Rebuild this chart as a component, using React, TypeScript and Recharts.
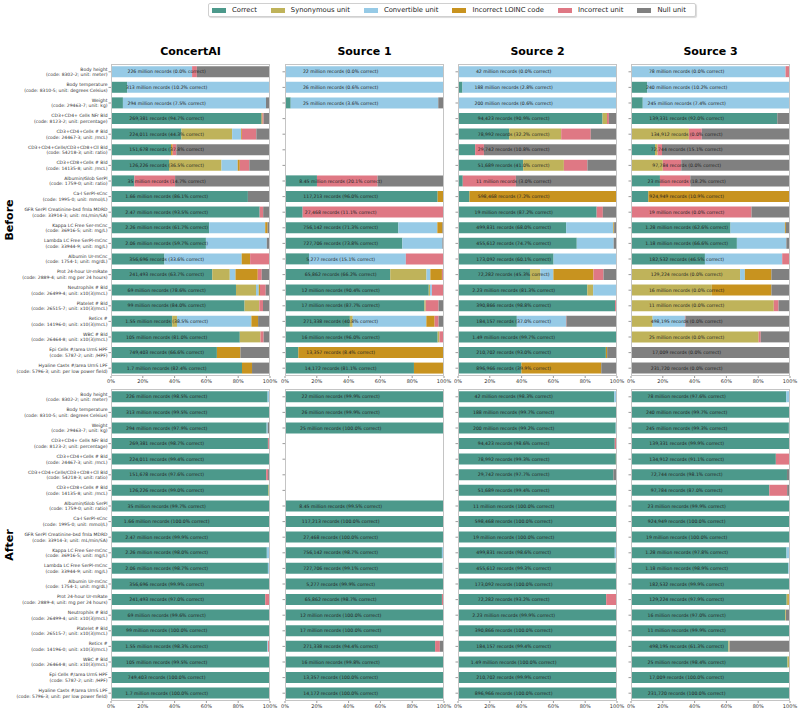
import React from 'react';
import { BarChart, Bar, XAxis, YAxis, ReferenceDot } from 'recharts';

const SEGMENT_KEYS = ['correct', 'synonymous', 'convertible', 'loinc', 'unit', 'nullUnit'];
const SEGMENT_NAMES = ['Correct', 'Synonymous unit', 'Convertible unit', 'Incorrect LOINC code', 'Incorrect unit', 'Null unit'];
const SEGMENT_COLORS = ['#4c998b', '#bfb35a', '#96cae6', '#c8931f', '#df7884', '#808080'];

const SOURCES = ['ConcertAI', 'Source 1', 'Source 2', 'Source 3'];
const X_TICKS = [0, 20, 40, 60, 80, 100];
// bar annotations sit at this x value (percent), as in the original
const LABEL_X = 35;

const TEST_NAMES = [
  'Body height', 'Body temperature', 'Weight', 'CD3+CD4+ Cells NFr Bld', 'CD3+CD4+Cells # Bld',
  'CD3+CD4+Cells/CD3+CD8+Cll Bld', 'CD3+CD8+Cells # Bld', 'Albumin/Glob SerPl', 'Ca-I SerPl-sCnc',
  'GFR SerPl Creatinine-bsd fmla MDRD', 'Kappa LC Free Ser-mCnc', 'Lambda LC Free SerPl-mCnc',
  'Albumin Ur-mCnc', 'Prot 24-hour Ur-mRate', 'Neutrophils # Bld', 'Platelet # Bld', 'Retics #',
  'WBC # Bld', 'Epi Cells #/area UrnS HPF', 'Hyaline Casts #/area UrnS LPF',
];
const TEST_CODES = [
  '(code: 8302-2; unit: meter)', '(code: 8310-5; unit: degrees Celsius)', '(code: 29463-7; unit: kg)',
  '(code: 8123-2; unit: percentage)', '(code: 24467-3; unit: /mcL)', '(code: 54218-3; unit: ratio)',
  '(code: 14135-8; unit: /mcL)', '(code: 1759-0; unit: ratio)', '(code: 1995-0; unit: mmol/L)',
  '(code: 33914-3; unit: mL/min/SA)', '(code: 36916-5; unit: mg/L)', '(code: 33944-9; unit: mg/L)',
  '(code: 1754-1; unit: mg/dL)', '(code: 2889-4; unit: mg per 24 hours)', '(code: 26499-4; unit: x10(3)/mcL)',
  '(code: 26515-7; unit: x10(3)/mcL)', '(code: 14196-0; unit: x10(3)/mcL)', '(code: 26464-8; unit: x10(3)/mcL)',
  '(code: 5787-2; unit: /HPF)', '(code: 5796-3; unit: per low power field)',
];

const CONCERTAI_RECORDS = ['226 million', '313 million', '294 million', '269,381', '224,011', '151,678', '126,226', '35 million', '1.66 million', '2.47 million', '2.26 million', '2.06 million', '356,696', '241,493', '69 million', '99 million', '1.55 million', '105 million', '749,403', '1.7 million'];
const SOURCE1_RECORDS = ['22 million', '26 million', '25 million', null, null, null, null, '8.45 million', '117,213', '27,468', '756,142', '727,706', '5,277', '65,862', '12 million', '17 million', '271,338', '16 million', '13,357', '14,172'];
const SOURCE2_RECORDS = ['42 million', '188 million', '200 million', '94,423', '78,992', '29,742', '51,689', '11 million', '598,468', '19 million', '499,831', '455,612', '173,092', '72,282', '2.23 million', '390,866', '184,157', '1.49 million', '210,702', '896,966'];
const SOURCE3_RECORDS = ['78 million', '240 million', '245 million', '139,331', '134,912', '72,744', '97,784', '23 million', '924,949', '19 million', '1.28 million', '1.18 million', '182,532', '129,224', '16 million', '11 million', '498,195', '25 million', '17,009', '231,720'];

// each row: correct, synonymous, convertible, incorrect LOINC, incorrect unit, null (percent)
const BEFORE_CONCERTAI = [
  [0, 0, 51, 0, 3, 46], [10.2, 0, 89.3, 0, 0, 0.5], [7.5, 0, 90, 0, 0, 2.5], [94.7, 0, 0, 0.6, 0.7, 4],
  [44.3, 31.9, 5.6, 0.5, 9.1, 8.6], [37.8, 0, 0, 1, 2.3, 58.9], [36.5, 33, 10.2, 1.3, 6, 13], [14.7, 0, 0, 0, 25.6, 59.7],
  [86.1, 0, 0, 0, 0, 13.9], [93.5, 0, 0, 0, 2.2, 4.3], [61.7, 0, 35.3, 1.5, 0, 1.5], [59.7, 0, 38.3, 0, 0, 2],
  [33.6, 0, 48.6, 5.3, 12.5, 0], [63.7, 11, 3.6, 14, 2.5, 5.2], [78.6, 12.6, 1.7, 0.8, 3.6, 2.7], [84, 9.3, 0, 0, 2.3, 4.4],
  [38.5, 3, 46.8, 4.2, 0, 7.5], [81, 13, 0, 0, 2, 4], [66.6, 0, 0, 14.8, 0, 18.6], [82.4, 0, 0, 6.3, 0, 11.3],
];
const BEFORE_SOURCE1 = [
  [0, 0, 100, 0, 0, 0], [0.6, 0, 99.4, 0, 0, 0], [3.6, 0, 92.8, 0, 0, 3.6], null,
  null, null, null, [20.1, 0, 0, 0, 38.1, 41.8],
  [96, 0, 0, 4, 0, 0], [11.1, 0, 0, 0, 88.9, 0], [71.3, 0, 24.5, 3.2, 0, 1], [73.8, 0, 25.2, 0, 0, 1],
  [15.1, 0, 60.9, 0, 24, 0], [66.2, 22.8, 2.4, 7.3, 0.6, 0.7], [90.4, 0.8, 1.2, 0, 7.6, 0], [87.7, 0.8, 0, 0, 8.1, 3.4],
  [40.8, 1.8, 46.3, 5.2, 2.5, 3.4], [96, 1.2, 0, 0, 2.8, 0], [8.4, 0, 0, 91.6, 0, 0], [81.1, 0, 0, 18.9, 0, 0],
];
const BEFORE_SOURCE2 = [
  [0, 0, 100, 0, 0, 0], [2.8, 0, 96.9, 0, 0, 0.3], [0.6, 0, 99.4, 0, 0, 0], [90.9, 2.8, 0, 0, 1.2, 5.1],
  [32.2, 32.7, 0, 0, 18.6, 16.5], [10.8, 0, 0, 0, 5.5, 83.7], [41, 25.6, 0, 0, 14.8, 18.6], [3, 0, 0, 0, 33.4, 63.6],
  [7.2, 0, 0, 92.8, 0, 0], [87.2, 0, 0, 0, 3.9, 8.9], [68, 0, 29.7, 0.5, 0, 1.8], [74.7, 0, 23.2, 0, 0, 2.1],
  [60.1, 0, 39.5, 0, 0.4, 0], [45.3, 6.5, 8.2, 25.2, 6.3, 8.5], [81.3, 3.7, 15, 0, 0, 0], [98.8, 0, 0, 0, 1.2, 0],
  [37, 0, 30.9, 0, 0.3, 31.8], [99.7, 0, 0, 0, 0, 0.3], [93, 0, 0, 0.8, 0, 6.2], [39.9, 0, 0, 50.2, 0, 9.9],
];
const BEFORE_SOURCE3 = [
  [0, 0, 97.2, 0, 2.8, 0], [10.2, 0, 89.3, 0, 0, 0.5], [7.4, 0, 92.6, 0, 0, 0], [92, 0, 0, 0, 0, 8],
  [0, 36.4, 0, 0, 8.1, 55.5], [15.1, 1.6, 0, 0, 2.8, 80.5], [0, 20, 0, 0, 11.6, 68.4], [18.2, 0, 0, 0, 19.1, 62.7],
  [10.9, 0, 0, 89.1, 0, 0], [0, 0, 0, 0, 75.8, 24.2], [62.6, 0, 34.2, 0.6, 0, 2.6], [66.6, 0, 31.1, 0, 0, 2.3],
  [46.5, 0, 48.6, 0, 4.9, 0], [0, 68.6, 3, 16.7, 0, 11.7], [0, 50.8, 0, 37.5, 0, 11.7], [0, 89.8, 0, 0, 3, 7.2],
  [0, 13.6, 20.3, 0, 0.4, 65.7], [0, 80.3, 0, 0, 1.3, 18.4], [0, 0, 0, 0, 0, 100], [0, 0, 0, 0, 0, 100],
];

const AFTER_CONCERTAI = [
  [98.5, 0, 1.5, 0, 0, 0], [99.5, 0, 0.5, 0, 0, 0], [97.9, 0, 0.7, 0, 0, 1.4], [98.7, 0, 0, 0, 0.6, 0.7],
  [99.4, 0, 0, 0.6, 0, 0], [97.6, 0, 0, 0, 1.2, 1.2], [99, 0.5, 0, 0.5, 0, 0], [99.7, 0, 0, 0, 0, 0.3],
  [100, 0, 0, 0, 0, 0], [99.9, 0, 0, 0, 0.1, 0], [98, 0, 2, 0, 0, 0], [98.7, 0, 1.3, 0, 0, 0],
  [99.9, 0, 0, 0, 0.1, 0], [97, 0, 0, 0, 3, 0], [99.6, 0, 0, 0, 0.4, 0], [100, 0, 0, 0, 0, 0],
  [98.3, 0, 0.5, 0, 1.2, 0], [99.5, 0, 0, 0.5, 0, 0], [100, 0, 0, 0, 0, 0], [100, 0, 0, 0, 0, 0],
];
const AFTER_SOURCE1 = [
  [99.9, 0, 0.1, 0, 0, 0], [99.9, 0, 0.1, 0, 0, 0], [100, 0, 0, 0, 0, 0], null,
  null, null, null, [99.5, 0, 0, 0, 0, 0.5],
  [100, 0, 0, 0, 0, 0], [100, 0, 0, 0, 0, 0], [98.7, 0, 1.3, 0, 0, 0], [99.1, 0, 0.9, 0, 0, 0],
  [99.9, 0, 0.1, 0, 0, 0], [98.7, 0, 0, 0, 1.3, 0], [100, 0, 0, 0, 0, 0], [100, 0, 0, 0, 0, 0],
  [94.4, 0, 0, 0, 3, 2.6], [99.8, 0.2, 0, 0, 0, 0], [100, 0, 0, 0, 0, 0], [100, 0, 0, 0, 0, 0],
];
const AFTER_SOURCE2 = [
  [98.3, 0, 1.7, 0, 0, 0], [99.7, 0, 0.3, 0, 0, 0], [99.2, 0, 0.8, 0, 0, 0], [98.6, 0, 0, 0, 1.4, 0],
  [99.3, 0, 0, 0.7, 0, 0], [97.7, 0, 0, 0, 0, 2.3], [99.4, 0, 0, 0.6, 0, 0], [100, 0, 0, 0, 0, 0],
  [100, 0, 0, 0, 0, 0], [100, 0, 0, 0, 0, 0], [98.6, 0, 1.4, 0, 0, 0], [99.3, 0, 0.7, 0, 0, 0],
  [100, 0, 0, 0, 0, 0], [93.2, 0, 0, 0, 6.8, 0], [99.9, 0, 0.1, 0, 0, 0], [100, 0, 0, 0, 0, 0],
  [99.4, 0, 0, 0, 0.6, 0], [100, 0, 0, 0, 0, 0], [99.9, 0, 0, 0, 0, 0.1], [100, 0, 0, 0, 0, 0],
];
const AFTER_SOURCE3 = [
  [97.6, 0, 2.4, 0, 0, 0], [99.7, 0, 0.3, 0, 0, 0], [99.3, 0, 0.7, 0, 0, 0], [99.9, 0, 0, 0, 0, 0.1],
  [91.1, 0, 0, 0, 8.9, 0], [98.1, 0, 0, 0, 0, 1.9], [87, 0, 0, 0, 11.2, 1.8], [99.9, 0, 0, 0, 0, 0.1],
  [100, 0, 0, 0, 0, 0], [100, 0, 0, 0, 0, 0], [97.8, 0, 2.2, 0, 0, 0], [98.9, 0, 1.1, 0, 0, 0],
  [99.9, 0, 0.1, 0, 0, 0], [97.9, 1, 0, 1.1, 0, 0], [97, 0.5, 0, 0, 0, 2.5], [99.9, 0, 0, 0, 0, 0.1],
  [61.3, 0.7, 0, 0, 0, 38], [98.4, 1.2, 0, 0.4, 0, 0], [100, 0, 0, 0, 0, 0], [100, 0, 0, 0, 0, 0],
];

const RECORDS = [CONCERTAI_RECORDS, SOURCE1_RECORDS, SOURCE2_RECORDS, SOURCE3_RECORDS];
const BEFORE = [BEFORE_CONCERTAI, BEFORE_SOURCE1, BEFORE_SOURCE2, BEFORE_SOURCE3];
const AFTER = [AFTER_CONCERTAI, AFTER_SOURCE1, AFTER_SOURCE2, AFTER_SOURCE3];

// layout
const COL_LEFT = [111, 285, 458, 631];
const ROW_TOP = [64, 389];
const PLOT_W = 159;
const PLOT_H = 312;
const FONT = "'DejaVu Sans', sans-serif";

const buildRows = (segs: (number[] | null)[], records: (string | null)[]) =>
  TEST_NAMES.map((_, i) => {
    const s = segs[i];
    const row: any = { name: String(i), label: null };
    if (!s) return row;
    SEGMENT_KEYS.forEach((k, j) => (row[k] = s[j]));
    row.label = `${records[i]} records (${s[0].toFixed(1)}% correct)`;
    return row;
  });

const YTick = ({ x, y, payload }: any) => {
  const i = Number(payload.value);
  return (
    <text x={x} y={y} textAnchor="end" fontSize={4.5} fill="#333">
      <tspan x={x} dy={-1.3}>{TEST_NAMES[i]}</tspan>
      <tspan x={x} dy={5.6}>{TEST_CODES[i]}</tspan>
    </text>
  );
};

const Panel = ({ col, row, segs }: { col: number; row: number; segs: (number[] | null)[] }) => {
  const data = buildRows(segs, RECORDS[col]);
  const yW = col === 0 ? COL_LEFT[0] : 4;
  const left = COL_LEFT[col] - yW;
  const top = ROW_TOP[row];
  return (
    <>
      <div style={{ position: 'absolute', left, top }}>
        <BarChart
          width={yW + PLOT_W + 12}
          height={PLOT_H + 12}
          data={data}
          layout="vertical"
          margin={{ top: 0, right: 12, bottom: 0, left: 0 }}
          barCategoryGap="14%"
        >
          <XAxis
            type="number"
            domain={[0, 100]}
            ticks={X_TICKS}
            tickFormatter={(v) => `${v}%`}
            tick={{ fontSize: 5, fill: '#333' }}
            tickSize={2}
            tickMargin={1}
            tickLine={{ stroke: '#555', strokeWidth: 0.6 }}
            axisLine={false}
            height={12}
            interval={0}
          />
          <YAxis
            type="category"
            dataKey="name"
            width={yW}
            tick={col === 0 ? <YTick /> : () => <g />}
            tickSize={2.5}
            tickMargin={1}
            tickLine={{ stroke: '#555', strokeWidth: 0.6 }}
            axisLine={false}
            interval={0}
          />
          {SEGMENT_KEYS.map((k, j) => (
            <Bar key={k} dataKey={k} stackId="s" fill={SEGMENT_COLORS[j]} isAnimationActive={false} />
          ))}
          {data
            .filter((d) => d.label)
            .map((d) => (
              <ReferenceDot
                key={d.name}
                x={LABEL_X}
                y={d.name}
                r={0}
                fill="none"
                stroke="none"
                ifOverflow="visible"
                label={{ value: d.label, position: 'center', fontSize: 4.6, fill: '#222' }}
              />
            ))}
        </BarChart>
      </div>
      <div
        style={{
          position: 'absolute',
          left: COL_LEFT[col],
          top,
          width: PLOT_W,
          height: PLOT_H,
          boxSizing: 'border-box',
          border: '1px solid #c4c4c4',
          pointerEvents: 'none',
        }}
      />
    </>
  );
};

const Legend = () => (
  <div
    style={{
      position: 'absolute',
      left: 208,
      top: 3,
      width: 488,
      height: 14,
      boxSizing: 'border-box',
      border: '1px solid #d0d0d0',
      borderRadius: 2,
      boxShadow: '1px 1px 1px rgba(0,0,0,0.15)',
      display: 'flex',
      alignItems: 'center',
      paddingLeft: 3,
      gap: 14,
      fontSize: 6.8,
      color: '#222',
      background: '#fff',
    }}
  >
    {SEGMENT_NAMES.map((n, j) => (
      <div key={n} style={{ display: 'flex', alignItems: 'center', gap: 6, whiteSpace: 'nowrap' }}>
        <div style={{ width: 14, height: 5, background: SEGMENT_COLORS[j] }} />
        <span>{n}</span>
      </div>
    ))}
  </div>
);

const SideLabel = ({ text, cy }: { text: string; cy: number }) => (
  <div
    style={{
      position: 'absolute',
      left: 9,
      top: cy,
      transform: 'translate(-50%, -50%) rotate(-90deg)',
      fontWeight: 'bold',
      fontSize: 11,
      whiteSpace: 'nowrap',
    }}
  >
    {text}
  </div>
);

export default function App() {
  return (
    <div
      style={{
        position: 'absolute',
        left: 0,
        top: 0,
        width: 800,
        height: 712,
        background: '#fff',
        fontFamily: FONT,
        overflow: 'hidden',
      }}
    >
      <Legend />
      {SOURCES.map((s, c) => (
        <div
          key={s}
          style={{
            position: 'absolute',
            left: COL_LEFT[c],
            top: 46,
            width: PLOT_W,
            textAlign: 'center',
            fontWeight: 'bold',
            fontSize: 11,
            lineHeight: '12px',
          }}
        >
          {s}
        </div>
      ))}
      <SideLabel text="Before" cy={ROW_TOP[0] + PLOT_H / 2} />
      <SideLabel text="After" cy={ROW_TOP[1] + PLOT_H / 2} />
      {BEFORE.map((segs, c) => (
        <Panel key={`b${c}`} col={c} row={0} segs={segs} />
      ))}
      {AFTER.map((segs, c) => (
        <Panel key={`a${c}`} col={c} row={1} segs={segs} />
      ))}
    </div>
  );
}
